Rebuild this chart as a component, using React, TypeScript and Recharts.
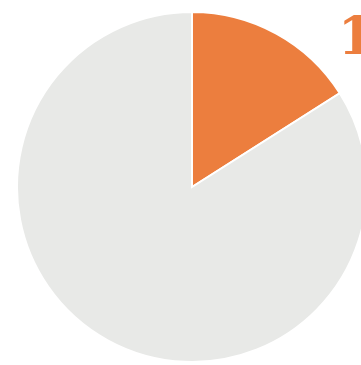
import React from 'react';
import { PieChart, Pie, Cell } from 'recharts';

const names = ['Share', 'Rest'];
const values = [16, 84];
const COLORS = ['#EC7E3E', '#E8E9E7'];

const data = names.map((name, i) => ({ name, value: values[i] }));

const App: React.FC = () => {
  return (
    <div
      style={{
        position: 'fixed',
        top: 0,
        left: 0,
        width: 361,
        height: 365,
        overflow: 'hidden',
        background: '#fff',
      }}
    >
      <PieChart width={361} height={365} margin={{ top: 0, right: 0, bottom: 0, left: 0 }}>
        <Pie
          data={data}
          dataKey="value"
          nameKey="name"
          cx={192}
          cy={187}
          outerRadius={175}
          startAngle={90}
          endAngle={-270}
          stroke="#fff"
          strokeWidth={2}
          isAnimationActive={false}
          labelLine={false}
          label={({ cx, cy, index, value }) =>
            index === 0 ? (
              <text
                x={cx + 146}
                y={cy - 133}
                fill="#EC7E3E"
                textAnchor="start"
                style={{ fontFamily: '"DejaVu Serif", serif', fontWeight: 700, fontSize: 52 }}
              >
                {`${value}%`}
              </text>
            ) : null
          }
        >
          {data.map((entry, index) => (
            <Cell key={`cell-${index}`} fill={COLORS[index % COLORS.length]} />
          ))}
        </Pie>
      </PieChart>
    </div>
  );
};

export default App;
